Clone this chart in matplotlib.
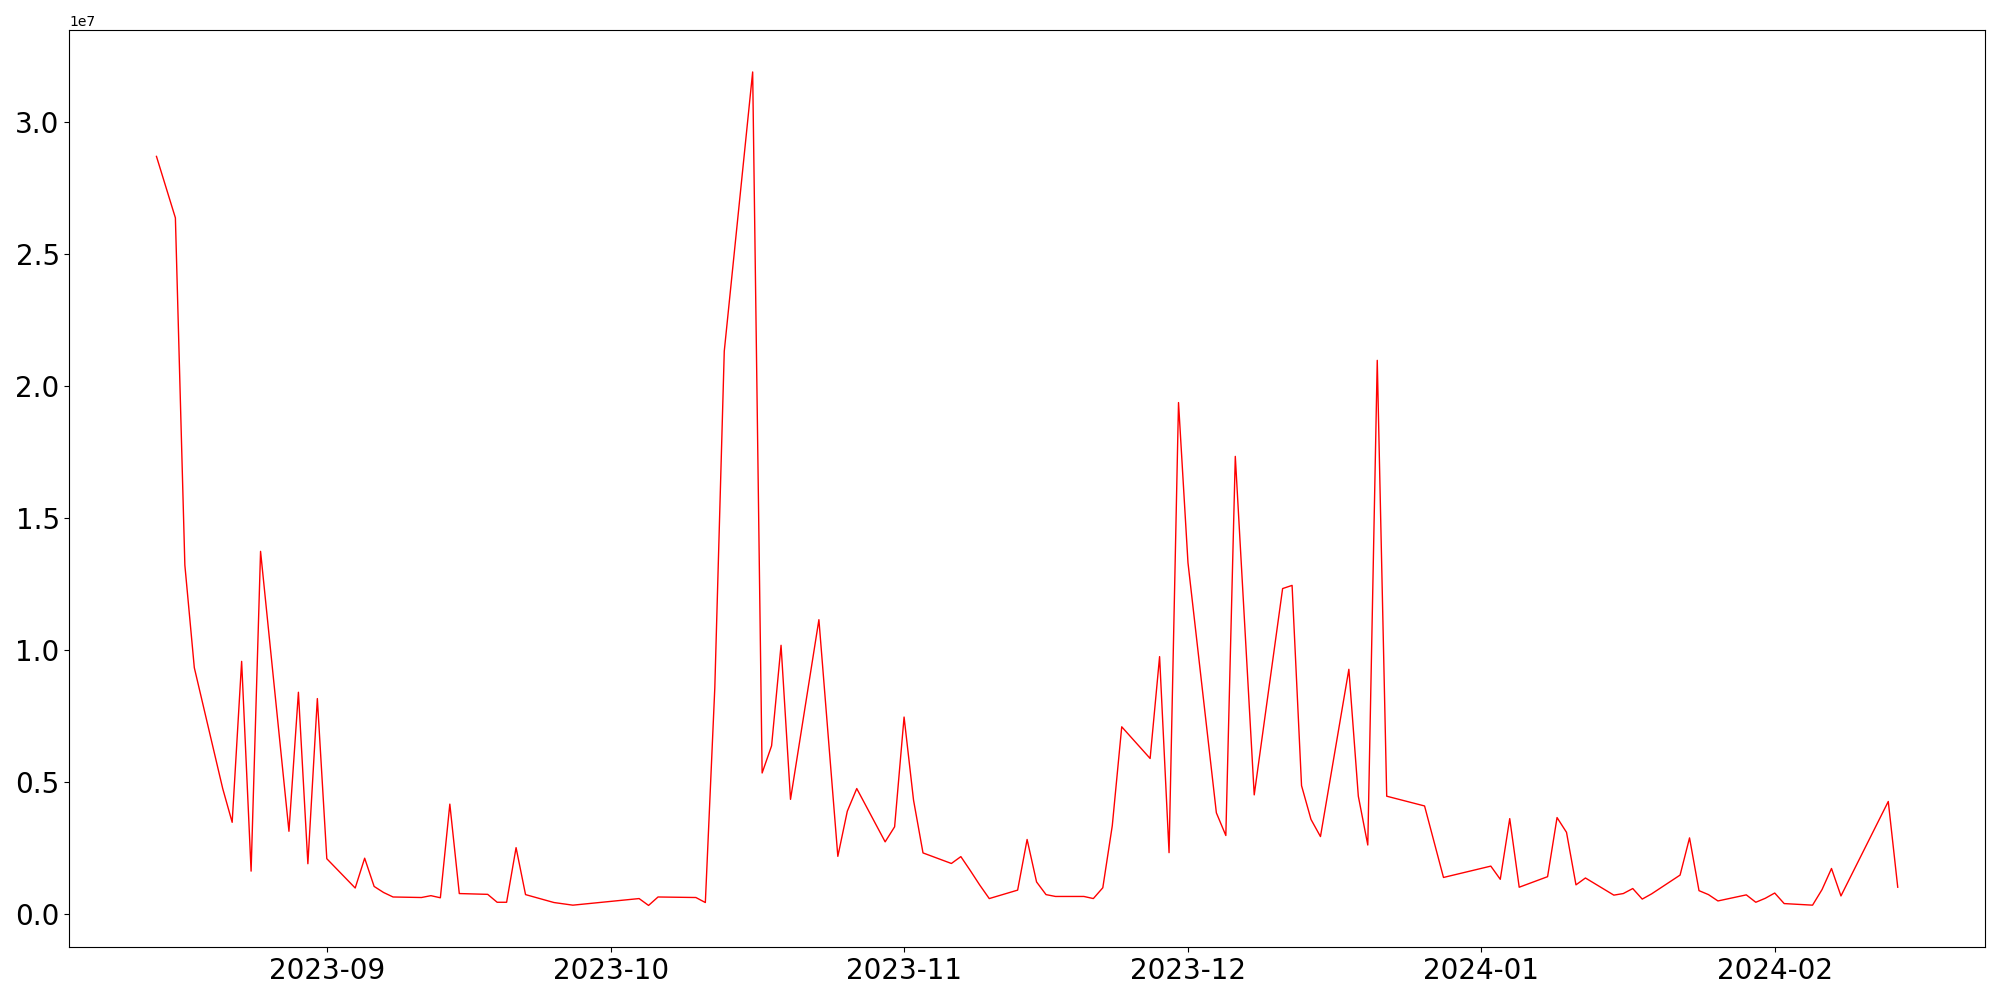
import numpy as np
import pandas as pd
import matplotlib
matplotlib.use('Agg')
import matplotlib.pyplot as plt

# dates and values (values in units of 1e7)
dates = [
    '2023-08-14', '2023-08-16', '2023-08-17', '2023-08-18', '2023-08-21', '2023-08-22',
    '2023-08-23', '2023-08-24', '2023-08-25', '2023-08-28', '2023-08-29', '2023-08-30',
    '2023-08-31', '2023-09-01', '2023-09-04', '2023-09-05', '2023-09-06', '2023-09-07',
    '2023-09-08', '2023-09-11', '2023-09-12', '2023-09-13', '2023-09-14', '2023-09-15',
    '2023-09-18', '2023-09-19', '2023-09-20', '2023-09-21', '2023-09-22', '2023-09-25',
    '2023-09-26', '2023-09-27', '2023-10-04', '2023-10-05', '2023-10-06', '2023-10-10',
    '2023-10-11', '2023-10-12', '2023-10-13', '2023-10-16', '2023-10-17', '2023-10-18',
    '2023-10-19', '2023-10-20', '2023-10-23', '2023-10-25', '2023-10-26', '2023-10-27',
    '2023-10-30', '2023-10-31', '2023-11-01', '2023-11-02', '2023-11-03', '2023-11-06',
    '2023-11-07', '2023-11-08', '2023-11-09', '2023-11-10', '2023-11-13', '2023-11-14',
    '2023-11-15', '2023-11-16', '2023-11-17', '2023-11-20', '2023-11-21', '2023-11-22',
    '2023-11-23', '2023-11-24', '2023-11-27', '2023-11-28', '2023-11-29', '2023-11-30',
    '2023-12-01', '2023-12-04', '2023-12-05', '2023-12-06', '2023-12-08', '2023-12-11',
    '2023-12-12', '2023-12-13', '2023-12-14', '2023-12-15', '2023-12-18', '2023-12-19',
    '2023-12-20', '2023-12-21', '2023-12-22', '2023-12-26', '2023-12-28', '2024-01-02',
    '2024-01-03', '2024-01-04', '2024-01-05', '2024-01-08', '2024-01-09', '2024-01-10',
    '2024-01-11', '2024-01-12', '2024-01-15', '2024-01-16', '2024-01-17', '2024-01-18',
    '2024-01-19', '2024-01-22', '2024-01-23', '2024-01-24', '2024-01-25', '2024-01-26',
    '2024-01-29', '2024-01-30', '2024-01-31', '2024-02-01', '2024-02-02', '2024-02-05',
    '2024-02-06', '2024-02-07', '2024-02-08', '2024-02-13', '2024-02-14',
]
volume_1e7 = [
    2.870, 2.637, 1.321, 0.932, 0.474, 0.346,
    0.956, 0.161, 1.373, 0.312, 0.839, 0.189,
    0.815, 0.208, 0.097, 0.210, 0.103, 0.080,
    0.063, 0.061, 0.068, 0.060, 0.415, 0.076,
    0.073, 0.043, 0.043, 0.250, 0.072, 0.042,
    0.037, 0.032, 0.057, 0.031, 0.063, 0.061,
    0.042, 0.856, 2.132, 3.190, 0.533, 0.636,
    1.017, 0.433, 1.114, 0.217, 0.388, 0.474,
    0.272, 0.329, 0.745, 0.430, 0.230, 0.190,
    0.216, 0.163, 0.108, 0.057, 0.089, 0.281,
    0.120, 0.072, 0.065, 0.065, 0.057, 0.098,
    0.333, 0.708, 0.588, 0.974, 0.231, 1.937,
    1.330, 0.382, 0.296, 1.733, 0.450, 1.232,
    1.244, 0.485, 0.357, 0.292, 0.926, 0.445,
    0.260, 2.097, 0.445, 0.408, 0.137, 0.180,
    0.130, 0.360, 0.100, 0.140, 0.364, 0.308,
    0.109, 0.135, 0.070, 0.076, 0.095, 0.055,
    0.075, 0.146, 0.287, 0.087, 0.072, 0.048,
    0.071, 0.043, 0.058, 0.078, 0.038, 0.032,
    0.091, 0.171, 0.067, 0.425, 0.100,
]

x = pd.to_datetime(dates)
y = np.array(volume_1e7) * 1e7

fig = plt.figure(figsize=(20, 10), dpi=100)
ax = fig.add_subplot(111)
ax.plot(x, y, color='red', linewidth=1)
plt.xticks(fontsize=20)
plt.yticks(fontsize=20)
fig.subplots_adjust(left=0.0347, right=0.9924, bottom=0.0529, top=0.9697)
plt.savefig('out.png')
